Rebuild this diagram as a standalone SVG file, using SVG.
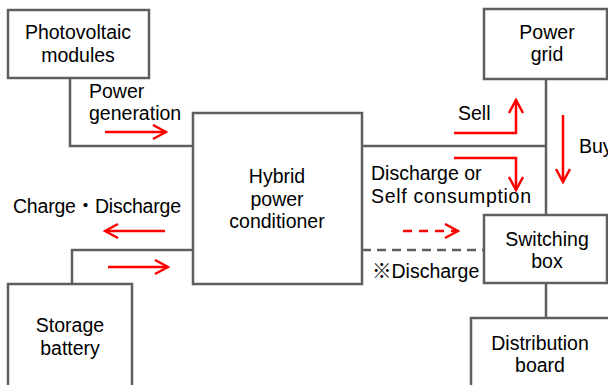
<svg xmlns="http://www.w3.org/2000/svg" width="608" height="385" viewBox="0 0 608 385">
<defs>
<style>
.box{fill:#fff;stroke:#5f5f5f;stroke-width:2.5}
.ln{fill:none;stroke:#5f5f5f;stroke-width:2.5}
.dl{fill:none;stroke:#5f5f5f;stroke-width:2.5;stroke-dasharray:9 6}
.ar{fill:none;stroke:#ff0000;stroke-width:2.5;marker-end:url(#ah)}
.ard{fill:none;stroke:#ff0000;stroke-width:2.5;stroke-dasharray:9 7;marker-end:url(#ah)}
text{font-family:"Liberation Sans","Noto Sans CJK JP",sans-serif;font-size:19.5px;fill:#000}
.c{text-anchor:middle}
</style>
<marker id="ah" markerWidth="16" markerHeight="18" refX="14" refY="8" orient="auto" markerUnits="userSpaceOnUse" viewBox="0 0 16 18">
<path d="M1,1 L14,8 L1,15" fill="none" stroke="#ff0000" stroke-width="2.5"/>
</marker>
</defs>
<rect width="608" height="385" fill="#fff"/>
<g id="connectors">
<polyline class="ln" points="70,78 70,146 193,146"/>
<line class="ln" x1="362" y1="146" x2="546" y2="146"/>
<line class="ln" x1="546" y1="79" x2="546" y2="215"/>
<polyline class="ln" points="193,250 72,250 72,284"/>
<line class="dl" x1="362" y1="250" x2="484" y2="250"/>
<line class="ln" x1="546" y1="283" x2="546" y2="318"/>
<line class="ar" x1="105" y1="132" x2="166" y2="132"/>
<line class="ar" x1="165" y1="231" x2="105" y2="231"/>
<line class="ar" x1="108" y1="267" x2="168" y2="267"/>
<polyline class="ar" points="454,133 516,133 516,100"/>
<polyline class="ar" points="454,158 516,158 516,190"/>
<line class="ar" x1="563" y1="115" x2="563" y2="182"/>
<line class="ard" x1="403" y1="231" x2="458" y2="231"/>
</g>
<g id="pv">
<rect class="box" x="8" y="10" width="141" height="68"/>
<text class="c" x="78" y="39">Photovoltaic</text>
<text class="c" x="78" y="62">modules</text>
</g>
<g id="grid">
<rect class="box" x="484" y="9" width="123" height="70"/>
<text class="c" x="547" y="39">Power</text>
<text class="c" x="547" y="61">grid</text>
</g>
<g id="hybrid">
<rect class="box" x="193" y="113" width="169" height="171"/>
<text class="c" x="277" y="183">Hybrid</text>
<text class="c" x="277" y="206">power</text>
<text class="c" x="277" y="228">conditioner</text>
</g>
<g id="storage">
<rect class="box" x="8" y="284" width="124" height="110"/>
<text class="c" x="70" y="332">Storage</text>
<text class="c" x="70" y="355">battery</text>
</g>
<g id="switching">
<rect class="box" x="484" y="215" width="123" height="68"/>
<text class="c" x="547" y="246">Switching</text>
<text class="c" x="547" y="268">box</text>
</g>
<g id="distribution">
<rect class="box" x="471" y="318" width="150" height="80"/>
<text class="c" x="540" y="350">Distribution</text>
<text class="c" x="540" y="372">board</text>
</g>
<g id="labels">
<text x="89" y="98">Power</text>
<text x="89" y="120">generation</text>
<text x="458" y="120">Sell</text>
<text x="579" y="153">Buy</text>
<text x="371" y="180">Discharge or</text>
<text x="371" y="203" textLength="160" lengthAdjust="spacing">Self consumption</text>
<text x="13" y="213" textLength="168" lengthAdjust="spacing">Charge・Discharge</text>
<text x="372" y="278">※Discharge</text>
</g>
</svg>
